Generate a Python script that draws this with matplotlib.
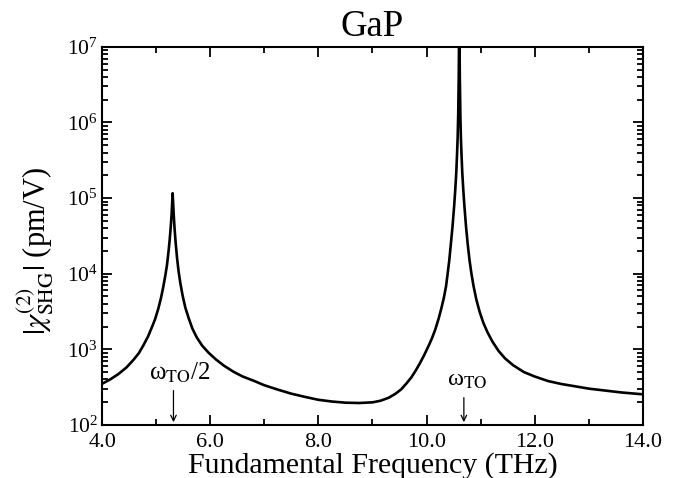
import matplotlib
matplotlib.use('Agg')
import matplotlib.pyplot as plt
from matplotlib.ticker import MultipleLocator, LogLocator, FormatStrFormatter, NullFormatter

plt.rcParams['font.family'] = ['Liberation Serif', 'DejaVu Serif']
plt.rcParams['mathtext.fontset'] = 'stix'

# Frecuencia fundamental (THz) y |chi2| (pm/V)
freq = [4.0, 4.15, 4.3, 4.45, 4.58, 4.68, 4.77, 4.85, 4.92, 4.98, 5.04, 5.09,
        5.13, 5.17, 5.20, 5.23, 5.25, 5.27, 5.285, 5.295, 5.305,
        5.315, 5.325, 5.34, 5.36, 5.385, 5.415, 5.45, 5.49, 5.54, 5.60, 5.67,
        5.75, 5.85, 5.97, 6.1, 6.25, 6.43, 6.6, 6.8, 7.0, 7.25, 7.5, 7.75,
        8.0, 8.25, 8.5, 8.75, 9.0, 9.15, 9.3, 9.42, 9.53, 9.63, 9.72, 9.8,
        9.88, 9.96, 10.04, 10.1, 10.16, 10.22, 10.27, 10.32, 10.36, 10.39,
        10.42, 10.45, 10.48, 10.51, 10.53, 10.55, 10.565, 10.575, 10.585,
        10.595, 10.605, 10.615, 10.625, 10.635, 10.645, 10.66, 10.68, 10.70,
        10.73, 10.76, 10.795, 10.83, 10.87, 10.92, 10.98, 11.05, 11.13, 11.22,
        11.33, 11.45, 11.6, 11.8, 12.0, 12.25, 12.5, 12.75, 13.0, 13.3, 13.6,
        14.0]
chi = [350, 400, 470, 575, 725, 890, 1150, 1480, 1950, 2500, 3450, 4800,
       6600, 9500, 13000, 20000, 28000, 42000, 60000, 83000, 116000,
       83000, 60000, 40000, 26000, 16500, 10700, 7300, 5100, 3550, 2600, 1880,
       1440, 1120, 900, 740, 610, 505, 437, 385, 335, 293, 259, 235,
       215, 204, 197, 195, 199, 209, 229, 257, 295, 355, 427, 525,
       660, 850, 1120, 1400, 1820, 2500, 3400, 4800, 6800, 10000,
       15000, 25000, 42000, 78000, 126000, 220000, 400000, 630000, 1.26e6,
       4e6, 3e7, 4e6, 1.26e6, 630000, 400000, 220000, 126000, 78000,
       42000, 25000, 15000, 10000, 6800, 4570, 3160, 2240, 1660, 1260,
       955, 760, 617, 500, 437, 380, 347, 324, 302, 285, 269,
       254]

# Posiciones de las flechas (omega_TO/2 y omega_TO)
arrow_x = [5.32, 10.69]
arrow_labels = [r'ω$_{\rm TO}$/2', r'ω$_{\rm TO}$']

fig = plt.figure(figsize=(6.76, 4.78), dpi=100)
ax = fig.add_axes([0.151, 0.111, 0.8, 0.791])

ax.plot(freq, chi, color='black', linewidth=1.9)
ax.set_yscale('log')
ax.set_xlim(4.0, 14.0)
ax.set_ylim(1e2, 1e7)

# Ticks hacia adentro en los cuatro lados
ax.xaxis.set_major_locator(MultipleLocator(2.0))
ax.xaxis.set_minor_locator(MultipleLocator(1.0))
ax.xaxis.set_major_formatter(FormatStrFormatter('%.1f'))
ax.yaxis.set_major_locator(LogLocator(base=10, numticks=10))
ax.yaxis.set_minor_locator(LogLocator(base=10, subs=range(2, 10), numticks=20))
ax.yaxis.set_minor_formatter(NullFormatter())
ax.tick_params(which='both', direction='in', top=True, right=True, width=1.3)
ax.tick_params(which='major', length=7.5, labelsize=15.5, pad=3)
ax.tick_params(axis='x', which='major', labelsize=16, pad=6)
ax.tick_params(which='minor', length=4)
for s in ax.spines.values():
    s.set_linewidth(1.5)

# Flechas con etiquetas
ax.annotate('', xy=(arrow_x[0], 100), xytext=(arrow_x[0], 310),
            arrowprops=dict(arrowstyle='->', color='black', lw=0.9))
ax.text(4.87, 395, arrow_labels[0], fontsize=18, ha='left', va='baseline')
ax.annotate('', xy=(arrow_x[1], 100), xytext=(arrow_x[1], 250),
            arrowprops=dict(arrowstyle='->', color='black', lw=0.9))
ax.text(10.38, 335, arrow_labels[1], fontsize=17.5, ha='left', va='baseline')

ax.set_title('GaP', fontsize=26.5, pad=8)
ax.set_xlabel('Fundamental Frequency (THz)', fontsize=21.5, labelpad=0)
ax.set_ylabel(r'$|\chi^{(2)}_{\rm SHG}|$ (pm/V)', fontsize=22)
ax.yaxis.set_label_coords(-0.085, 0.46)

fig.savefig('out.png', dpi=100)
